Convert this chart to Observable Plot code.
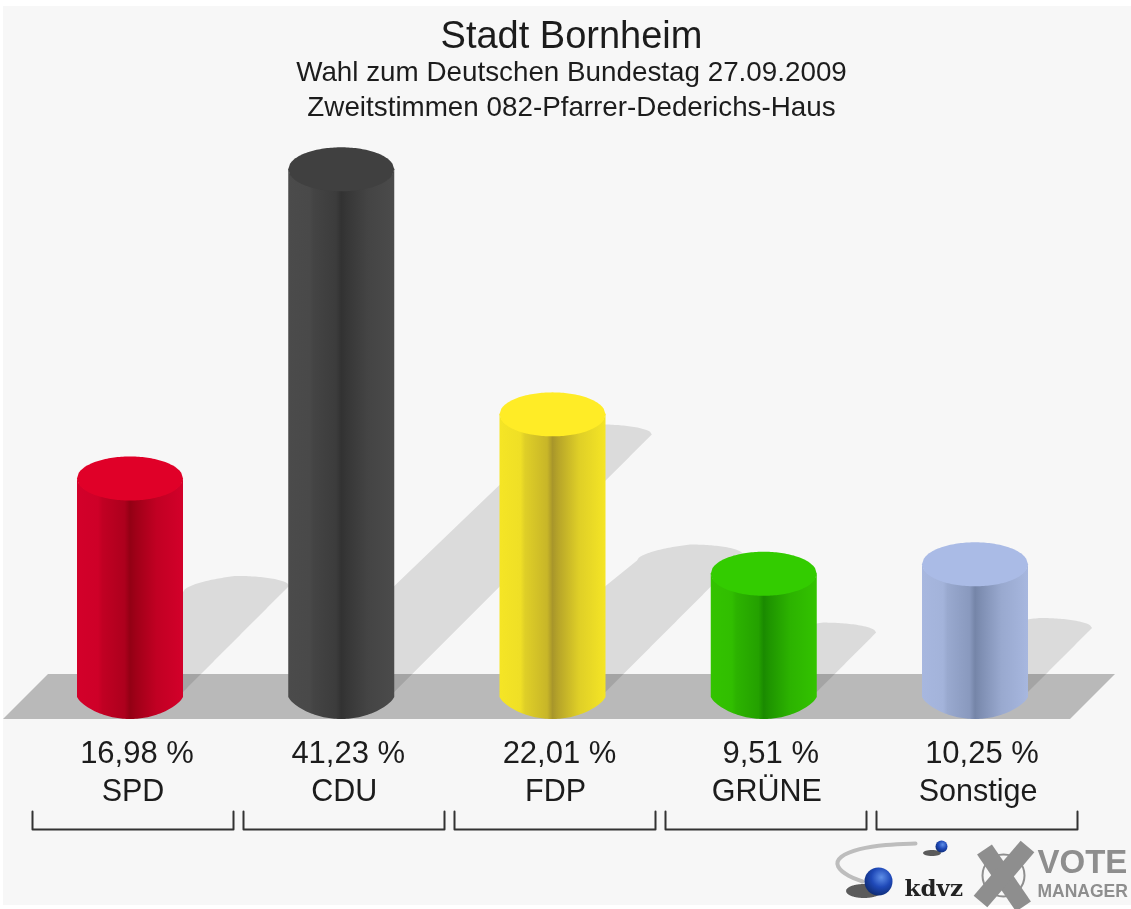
<!DOCTYPE html>
<html><head><meta charset="utf-8">
<script src="https://cdn.jsdelivr.net/npm/d3@7"></script>
<script src="https://cdn.jsdelivr.net/npm/@observablehq/plot@0.6"></script>
<style>
html,body{margin:0;padding:0;background:#fff;}
#panel{position:absolute;left:3px;top:6px;width:1128px;height:899px;background:#f7f7f7;}
#head{position:absolute;left:0;top:0;width:1131px;height:130px;font-family:"Liberation Sans",Arial,sans-serif;color:#1c1c1c;text-align:center;filter:blur(.4px);}
#head div{position:absolute;left:6px;width:1131px;white-space:nowrap;}
#t1{top:14px;font-size:38px;line-height:42px;}
#t2{top:55px;font-size:27.8px;line-height:34px;}
#t3{top:90px;font-size:27.8px;line-height:34px;}
#chart{position:absolute;left:0;top:130px;filter:blur(.5px);}
svg{display:block;}
</style></head><body>
<div id="panel"></div>
<div id="head"><div id="t1"></div><div id="t2"></div><div id="t3"></div></div>
<div id="chart"></div>
<script>
const titleText = "Stadt Bornheim";
const subtitleText = "Wahl zum Deutschen Bundestag 27.09.2009";
const subtitle2Text = "Zweitstimmen 082-Pfarrer-Dederichs-Haus";
const parties = ["SPD","CDU","FDP","GRÜNE","Sonstige"];
const shares = [16.98,41.23,22.01,9.51,10.25];
const shareLabels = ["16,98 %","41,23 %","22,01 %","9,51 %","10,25 %"];
const capColors = ["#e00028","#404040","#ffec26","#33cc00","#aabbe6"];
const edgeColors = ["#d4002a","#4c4c4c","#f7e725","#33c400","#a8b8e0"];
const coreColors = ["#930014","#323232","#a8962a","#1a8a00","#7585a8"];

document.getElementById("t1").textContent = titleText;
document.getElementById("t2").textContent = subtitleText;
document.getElementById("t3").textContent = subtitle2Text;

const W=1131, H=779, TOP=130;
const x0=130, step=211.25, perUnit=12.75, y0=695;     // page pixels of slot 0 and share 0
const X = px => (px-x0)/step;
const Y = py => (y0-py)/perUnit;
const R=53, RY=22, BASE=697, SHADOW_BASE=692;
const cx = i => x0+step*i;
const topY = v => y0-perUnit*v;

const arc = (c,r) => d3.range(0,61).map(k=>c-r+2*r*k/60);
const sq = t => Math.sqrt(Math.max(0,1-t*t));
const lens = t => Math.pow(Math.max(0,1-t*t),0.75);

function side(i){
  const c=cx(i), ty=topY(shares[i]);
  return arc(c,R).map(px=>{const t=(px-c)/R;return {x:X(px),y1:Y(BASE+RY*lens(t)),y2:Y(ty+RY*sq(t)-1)};});
}
function cap(i){
  const c=cx(i), ty=topY(shares[i]);
  return arc(c,R).map(px=>{const s=sq((px-c)/R);return {x:X(px),y1:Y(ty+RY*s),y2:Y(ty-RY*s)};});
}
function shadow(i){
  const c=cx(i), d=0.49*perUnit*shares[i], tc=c+d, ty=SHADOW_BASE-d, ry=10;
  const xs=[...new Set([c-R,c+R,...arc(tc,R)])].filter(p=>p>=c-R).sort((a,b)=>a-b);
  return xs.map(px=>{
    const t=(px-tc)/R;
    const up = px<tc-R ? SHADOW_BASE-(px-(c-R)) : ty-ry*sq(t)+6*Math.max(0,-t);
    const lo = px<c+R ? SHADOW_BASE : SHADOW_BASE-(px-(c+R));
    return {x:X(px),y1:Y(lo),y2:Y(Math.min(up,lo))};
  });
}
const floor=[[3,719,719],[48,719,674],[1070,719,674],[1115,674,674]].map(([a,b,c])=>({x:X(a),y1:Y(b),y2:Y(c)}));
const brackets=parties.flatMap((p,i)=>{const c=x0+2.5+211*i;return [[c-100.5,811],[c-100.5,829],[c+100.5,829],[c+100.5,811]].map(([a,b])=>({x:X(a),y:Y(b),p}));});
const rows=parties.map((p,i)=>({p,i,label:shareLabels[i]}));
const swoosh=[[915,843],[885,844],[858,848],[838,856],[835,866],[848,876],[862,881]].map(([a,b])=>({x:X(a),y:Y(b)}));
const ell=(cxp,cyp,rx,ry)=>arc(cxp,rx).map(px=>{const s=sq((px-cxp)/rx);return {x:X(px),y1:Y(cyp+ry*s),y2:Y(cyp-ry*s)};});
const G="#8e8e8e";
const logoText=(t,px,py,o)=>Plot.text([t],{x:()=>X(px),y:()=>Y(py),text:d=>d,textAnchor:"start",lineAnchor:"bottom",...o});

const plot=Plot.plot({
  width:W,height:H,margin:0,
  x:{domain:[X(0),X(W)],range:[0,W],axis:null},
  y:{domain:[Y(TOP+H),Y(TOP)],range:[H,0],axis:null},
  style:{background:"transparent"},
  marks:[
    Plot.areaY(floor,{x:"x",y1:"y1",y2:"y2",fill:"#b9b9b9"}),
    ...parties.map((p,i)=>Plot.areaY(shadow(i),{x:"x",y1:"y1",y2:"y2",fill:"#000",fillOpacity:0.11})),
    ...parties.map((p,i)=>Plot.areaY(side(i),{x:"x",y1:"y1",y2:"y2",fill:`url(#cyl${i})`})),
    ...parties.map((p,i)=>Plot.areaY(cap(i),{x:"x",y1:"y1",y2:"y2",fill:capColors[i]})),
    Plot.text(rows,{x:d=>X(cx(d.i)+6.5),y:()=>Y(756),text:"label",lineAnchor:"bottom",dy:6,fontSize:31,fill:"#1c1c1c",fontFamily:"Liberation Sans"}),
    Plot.text(rows,{x:d=>X(cx(d.i)+2.5),y:()=>Y(794),text:"p",lineAnchor:"bottom",dy:6,fontSize:30.5,fill:"#1c1c1c",fontFamily:"Liberation Sans"}),
    Plot.line(brackets,{x:"x",y:"y",z:"p",stroke:"#333",strokeWidth:2}),
    // logo
    Plot.line(swoosh,{x:"x",y:"y",curve:"basis",stroke:"#bdbdbd",strokeWidth:4}),
    Plot.areaY(ell(864,891,18,7),{x:"x",y1:"y1",y2:"y2",fill:"#333",fillOpacity:0.8}),
    Plot.dot([0],{x:()=>X(878),y:()=>Y(881),r:14,fill:"url(#ball)"}),
    Plot.areaY(ell(932,853,9,3),{x:"x",y1:"y1",y2:"y2",fill:"#333",fillOpacity:0.8}),
    Plot.dot([0],{x:()=>X(941),y:()=>Y(846),r:6,fill:"url(#ball)"}),
    logoText("kdvz",904,895,{fontSize:23,fontWeight:"bold",fill:"#222",fontFamily:"DejaVu Serif"}),
    Plot.dot([0],{x:()=>X(1003),y:()=>Y(875),r:21,stroke:G,strokeWidth:2}),
    Plot.line([[984,849],[1023,906]].map(([a,b])=>({x:X(a),y:Y(b)})),{x:"x",y:"y",stroke:G,strokeWidth:18,strokeLinecap:"butt"}),
    Plot.line([[1027,846],[980,901]].map(([a,b])=>({x:X(a),y:Y(b)})),{x:"x",y:"y",stroke:G,strokeWidth:18,strokeLinecap:"butt"}),
    logoText("VOTE",1037,872,{fontSize:33,fontWeight:"bold",fill:G,fontFamily:"Liberation Sans"}),
    logoText("MANAGER",1037,896,{fontSize:17.5,fontWeight:"bold",fill:G,fontFamily:"Liberation Sans"})
  ]
});
const defs=d3.select(plot).insert("defs",":first-child");
parties.forEach((p,i)=>{
  const g=defs.append("linearGradient").attr("id",`cyl${i}`).attr("x1",0).attr("x2",1).attr("y1",0).attr("y2",0);
  const mix=d3.interpolateRgb(edgeColors[i],coreColors[i]);
  [[0,.02],[.2,.1],[.24,.3],[.45,.6],[.5,1],[.56,.8],[.75,.3],[1,.02]].forEach(([o,t])=>g.append("stop").attr("offset",o).attr("stop-color",mix(t)));
});
const b=defs.append("radialGradient").attr("id","ball").attr("cx",.6).attr("cy",.35).attr("r",.7);
[[0,"#5f8fe8"],[.5,"#1f49b8"],[1,"#0d2a70"]].forEach(([o,c])=>b.append("stop").attr("offset",o).attr("stop-color",c));
document.getElementById("chart").appendChild(plot);
</script></body></html>
